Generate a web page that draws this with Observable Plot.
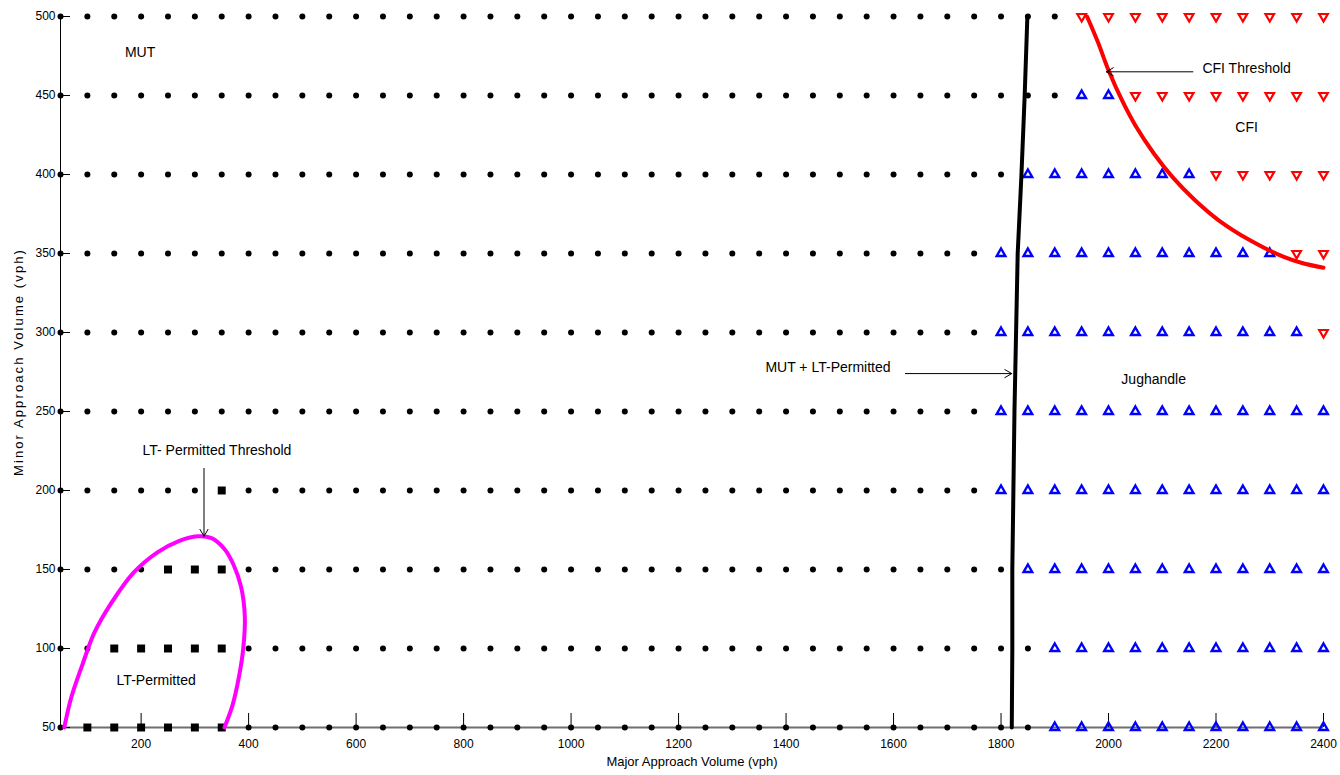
<!DOCTYPE html>
<html>
<head>
<meta charset="utf-8">
<script src="https://cdn.jsdelivr.net/npm/d3@7"></script>
<script src="https://cdn.jsdelivr.net/npm/@observablehq/plot@0.6"></script>
<style>
  html, body { margin: 0; padding: 0; background: #fff; }
  #chart { width: 1340px; height: 775px; }
</style>
</head>
<body>
<div id="chart"></div>
<script>
// Major approach volumes (x grid, vph)
const majorVolumes = [50,100,150,200,250,300,350,400,450,500,550,600,650,700,750,800,850,900,950,1000,
  1050,1100,1150,1200,1250,1300,1350,1400,1450,1500,1550,1600,1650,1700,1750,1800,1850,1900,1950,2000,
  2050,2100,2150,2200,2250,2300,2350,2400];
// Minor approach volumes (y grid, vph)
const minorVolumes = [50,100,150,200,250,300,350,400,450,500];
// x tick labels
const majorTicks = [200,400,600,800,1000,1200,1400,1600,1800,2000,2200,2400];

// Best alternative per grid cell, one string per minor volume (M = MUT, L = LT-Permitted, J = Jughandle, C = CFI)
const regimeRows = {
  500: "MMMMMMMMMM MMMMMMMMMM MMMMMMMMMM MMMMMMMMCC CCCCCCCC",
  450: "MMMMMMMMMM MMMMMMMMMM MMMMMMMMMM MMMMMMMMJJ CCCCCCCC",
  400: "MMMMMMMMMM MMMMMMMMMM MMMMMMMMMM MMMMMMJJJJ JJJCCCCC",
  350: "MMMMMMMMMM MMMMMMMMMM MMMMMMMMMM MMMMMJJJJJ JJJJJJCC",
  300: "MMMMMMMMMM MMMMMMMMMM MMMMMMMMMM MMMMMJJJJJ JJJJJJJC",
  250: "MMMMMMMMMM MMMMMMMMMM MMMMMMMMMM MMMMMJJJJJ JJJJJJJJ",
  200: "MMMMMMLMMM MMMMMMMMMM MMMMMMMMMM MMMMMJJJJJ JJJJJJJJ",
  150: "MMMMLLLMMM MMMMMMMMMM MMMMMMMMMM MMMMMMJJJJ JJJJJJJJ",
  100: "MMLLLLLMMM MMMMMMMMMM MMMMMMMMMM MMMMMMMJJJ JJJJJJJJ",
  50:  "MLLLLLLMMM MMMMMMMMMM MMMMMMMMMM MMMMMMMJJJ JJJJJJJJ"
};

// Threshold curves
const ltPermittedThreshold = [
  {x: 57, y: 50}, {x: 70, y: 69}, {x: 91, y: 90}, {x: 113, y: 110}, {x: 145, y: 129},
  {x: 186, y: 148}, {x: 231, y: 161}, {x: 270, y: 168}, {x: 305, y: 171}, {x: 330, y: 170},
  {x: 355, y: 163}, {x: 372, y: 153}, {x: 386, y: 139}, {x: 393, y: 120}, {x: 390, y: 100},
  {x: 382, y: 82}, {x: 370, y: 64}, {x: 355, y: 50}
];
const mutLtBoundary = [
  {x: 1820, y: 50}, {x: 1821, y: 100}, {x: 1821, y: 150}, {x: 1823, y: 200}, {x: 1825, y: 250},
  {x: 1828, y: 300}, {x: 1831, y: 350}, {x: 1838, y: 400}, {x: 1844, y: 450}, {x: 1849, y: 500}
];
const cfiThreshold = [
  {x: 1960, y: 500}, {x: 1980, y: 484}, {x: 2000, y: 466}, {x: 2025, y: 447}, {x: 2050, y: 431},
  {x: 2085, y: 413}, {x: 2120, y: 398}, {x: 2160, y: 384}, {x: 2205, y: 371}, {x: 2265, y: 358},
  {x: 2325, y: 348}, {x: 2360, y: 344}, {x: 2400, y: 341}
];

// Annotations
const labels = [
  {text: "MUT", x: 198, y: 477},
  {text: "LT- Permitted Threshold", x: 341, y: 225},
  {text: "LT-Permitted", x: 228, y: 80},
  {text: "MUT + LT-Permitted", x: 1478, y: 278},
  {text: "Jughandle", x: 2084, y: 270},
  {text: "CFI Threshold", x: 2257, y: 467},
  {text: "CFI", x: 2257, y: 430}
];
const arrows = [
  {x1: 317, y1: 214, x2: 317, y2: 171},
  {x1: 1622, y1: 274, x2: 1820, y2: 274},
  {x1: 2157, y1: 465, x2: 1996, y2: 465}
];

// Build the point table from the rows
const points = [];
for (const yv of minorVolumes) {
  const codes = regimeRows[yv].replace(/ /g, "");
  majorVolumes.forEach((xv, i) => points.push({x: xv, y: yv, regime: codes[i]}));
}
const of = (r) => points.filter(d => d.regime === r);
const x0 = majorVolumes[0];
const y0 = minorVolumes[0];

const chart = Plot.plot({
  width: 1340,
  height: 775,
  marginLeft: 60,
  marginRight: 17,
  marginTop: 16,
  marginBottom: 48,
  style: {fontFamily: "'Liberation Sans', Arial, sans-serif", fontSize: "12px", background: "#fff", color: "#000"},
  x: {domain: [x0, majorVolumes[majorVolumes.length - 1]]},
  y: {domain: [y0, minorVolumes[minorVolumes.length - 1]]},
  marks: [
    Plot.ruleX([x0], {stroke: "#000", strokeWidth: 1}),
    Plot.ruleY([y0], {stroke: "#6e6e6e", strokeWidth: 2}),
    // inward tick marks
    Plot.ruleX(majorTicks, {x: d => d, y1: y0, y2: y0, insetTop: -14, stroke: "#000", strokeWidth: 1}),
    Plot.ruleY(minorVolumes, {y: d => d, x1: x0, x2: x0, insetRight: -10, stroke: "#000", strokeWidth: 1}),
    Plot.axisX({ticks: majorTicks, tickSize: 0, tickPadding: 12, tickFormat: d => String(d),
      label: "Major Approach Volume (vph)", labelAnchor: "center", labelArrow: "none", labelOffset: 38, fontSize: 12}),
    Plot.axisY({ticks: minorVolumes, tickSize: 0, tickPadding: 5, tickFormat: d => String(d),
      label: "Minor Approach Volume (vph)", labelAnchor: "center", labelArrow: "none", labelOffset: 47, fontSize: 12}),
    Plot.dot(of("M"), {x: "x", y: "y", r: 3, fill: "#000", symbol: "circle"}),
    Plot.dot(of("L"), {x: "x", y: "y", r: 4.5, fill: "#000", symbol: "square"}),
    Plot.dot(of("J"), {x: "x", y: "y", r: 3.2, fill: "none", stroke: "#0000ff", strokeWidth: 2.4, symbol: "triangle"}),
    Plot.dot(of("C"), {x: "x", y: "y", r: 3.2, fill: "none", stroke: "#ff0000", strokeWidth: 2.2, symbol: "triangle", rotate: 180}),
    Plot.line(ltPermittedThreshold, {x: "x", y: "y", stroke: "#ff00ff", strokeWidth: 4, curve: "catmull-rom"}),
    Plot.line(mutLtBoundary, {x: "x", y: "y", stroke: "#000", strokeWidth: 4, curve: "linear"}),
    Plot.line(cfiThreshold, {x: "x", y: "y", stroke: "#ff0000", strokeWidth: 4, curve: "catmull-rom"}),
    Plot.arrow(arrows, {x1: "x1", y1: "y1", x2: "x2", y2: "y2", stroke: "#000", strokeWidth: 1, headLength: 12}),
    Plot.text(labels, {x: "x", y: "y", text: "text", fill: "#000", fontSize: 14})
  ]
});
document.getElementById("chart").appendChild(chart);
// axis-label styling to match the source figure
d3.select(chart).selectAll('g[aria-label="x-axis label"] text').style("font-size", "13px");
const yLabel = d3.select(chart).select('g[aria-label="y-axis label"]');
yLabel.attr("transform", "translate(0,-10) " + (yLabel.attr("transform") || ""))
  .selectAll("text").style("font-size", "13px").style("letter-spacing", "2.1px");
</script>
</body>
</html>
